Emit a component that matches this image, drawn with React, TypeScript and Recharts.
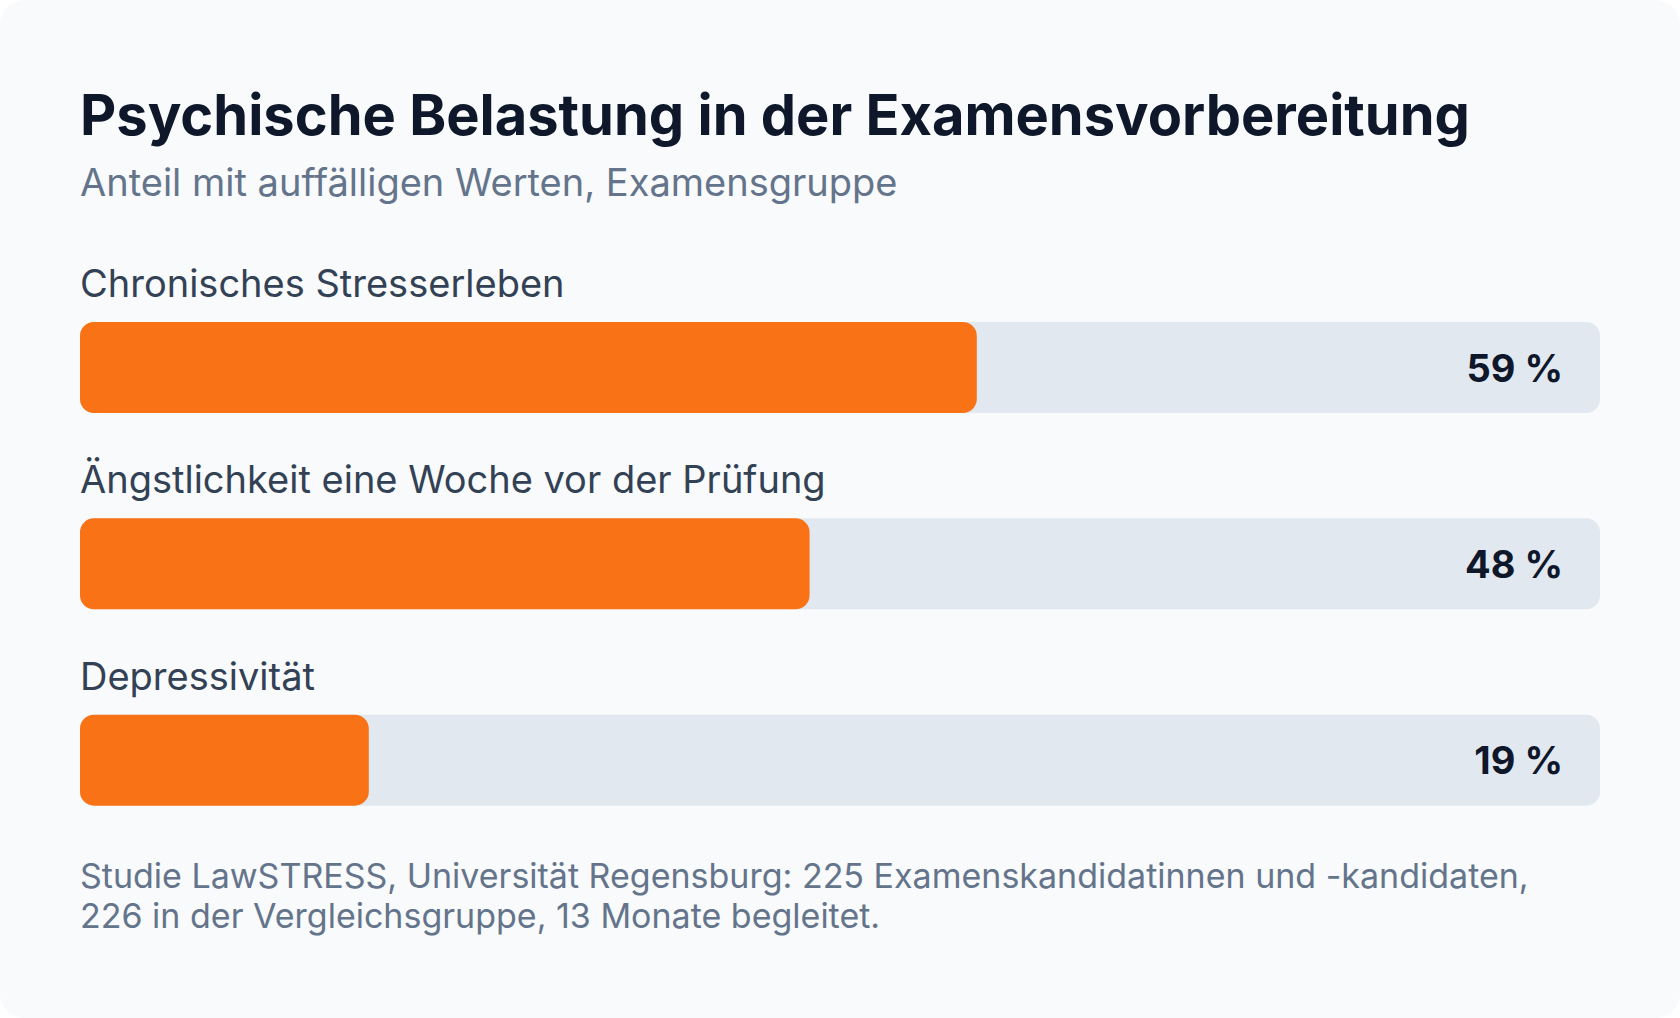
import { BarChart, Bar, XAxis, YAxis, Rectangle } from "recharts";

const categories = [
  "Chronisches Stresserleben",
  "Ängstlichkeit eine Woche vor der Prüfung",
  "Depressivität",
];
const shares = [59, 48, 19];

const data = categories.map((name, i) => ({ name, share: shares[i] }));

const FONT = "Inter, 'Noto Sans', sans-serif";

const BarWithLabels = (props: any) => {
  const { x, y, width, height, index, value, background } = props;
  const v = Array.isArray(value) ? value[1] - value[0] : value;
  const bg = background ?? { x, y, width: (width * 100) / v, height };
  return (
    <g>
      <Rectangle x={x} y={y} width={width} height={height} radius={14} fill="#f97316" />
      <text
        x={bg.x}
        y={y - 25}
        fill="#334155"
        fontFamily={FONT}
        fontSize={38}
      >
        {categories[index]}
      </text>
      <text
        x={bg.x + bg.width - 37}
        y={y + height / 2 + 14}
        textAnchor="end"
        fill="#0f172a"
        fontFamily={FONT}
        fontSize={38}
        fontWeight={700}
      >
        {`${v} %`}
      </text>
    </g>
  );
};

export default function App() {
  return (
    <>
      <style>{"body{margin:0;background:#fff}"}</style>
      <div
        style={{
          position: "relative",
          width: 1680,
          height: 1018,
          background: "#f8fafc",
          borderRadius: 24,
          fontFamily: FONT,
          overflow: "hidden",
        }}
      >
        <div
          style={{
            position: "absolute",
            left: 80,
            top: 87,
            fontSize: 56,
            lineHeight: "56px",
            fontWeight: 700,
            color: "#0f172a",
            whiteSpace: "nowrap",
          }}
        >
          Psychische Belastung in der Examensvorbereitung
        </div>
        <div
          style={{
            position: "absolute",
            left: 80,
            top: 163,
            fontSize: 38,
            lineHeight: "38px",
            color: "#64748b",
            whiteSpace: "nowrap",
          }}
        >
          Anteil mit auffälligen Werten, Examensgruppe
        </div>
        <div style={{ position: "absolute", left: 0, top: 0 }}>
          <BarChart
            width={1680}
            height={1018}
            data={data}
            layout="vertical"
            margin={{ top: 269, right: 80, bottom: 160, left: 80 }}
            barSize={91}
          >
            <XAxis type="number" domain={[0, 100]} hide />
            <YAxis type="category" dataKey="name" hide width={0} />
            <Bar
              dataKey="share"
              isAnimationActive={false}
              background={{ fill: "#e2e8f0", radius: 14 }}
              shape={BarWithLabels}
            />
          </BarChart>
        </div>
        <div
          style={{
            position: "absolute",
            left: 80,
            top: 856,
            fontSize: 34,
            lineHeight: "40px",
            color: "#64748b",
            whiteSpace: "nowrap",
          }}
        >
          <div>
            Studie LawSTRESS, Universität Regensburg: 225 Examenskandidatinnen und -kandidaten,
          </div>
          <div>226 in der Vergleichsgruppe, 13 Monate begleitet.</div>
        </div>
      </div>
    </>
  );
}
